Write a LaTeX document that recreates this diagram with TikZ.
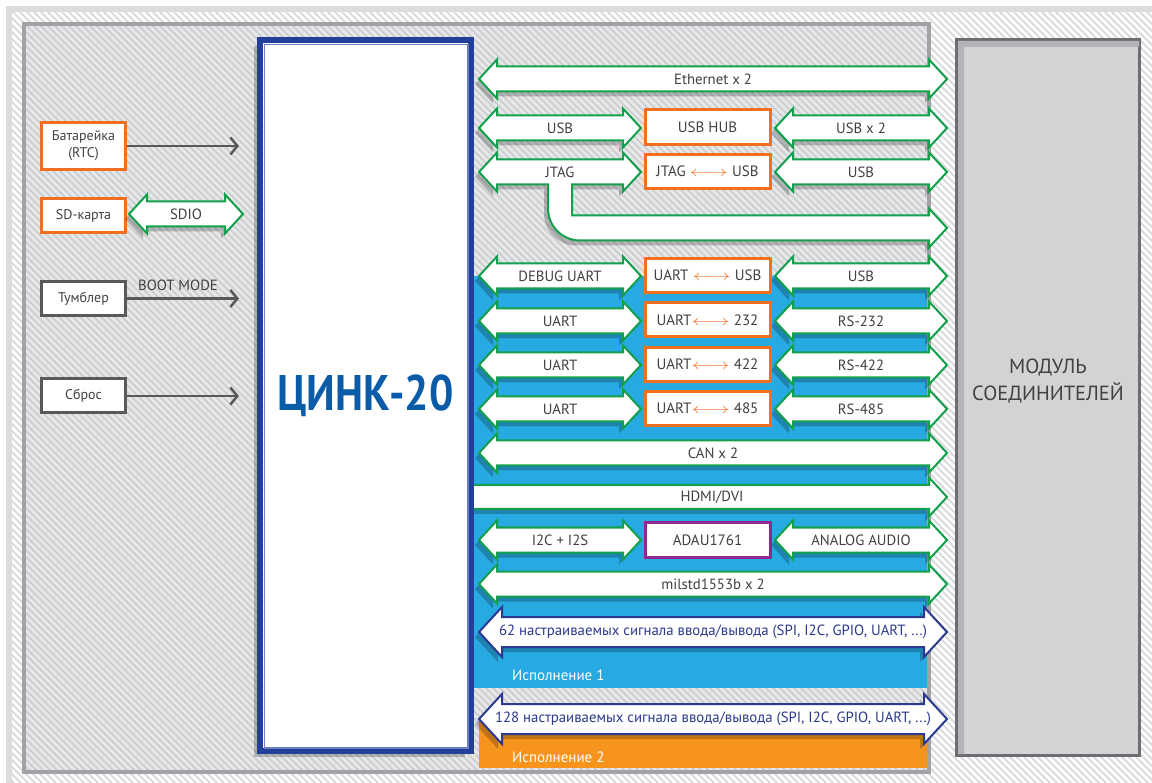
\documentclass[tikz,border=0pt]{standalone}
\usepackage{fontspec}
\setmainfont{PT Sans}
\usepackage{tikz}
\usetikzlibrary{arrows.meta,calc}

\definecolor{framegray}{HTML}{DCDCDC}
\definecolor{hatchlight}{HTML}{DADBDC}
\definecolor{panelfill}{HTML}{E6E7E8}
\definecolor{hatchdark}{HTML}{CBCCCE}
\definecolor{panelgray}{HTML}{A0A2A5}
\definecolor{variantblue}{HTML}{27A9E1}
\definecolor{variantorange}{HTML}{F7941D}
\definecolor{modfill}{HTML}{D1D3D4}
\definecolor{modborder}{HTML}{6D6E71}
\definecolor{modband}{HTML}{B2B4B7}
\definecolor{cpublue}{HTML}{22409A}
\definecolor{cpuinner}{HTML}{6B80C0}
\definecolor{cputext}{HTML}{0A5BA8}
\definecolor{linegreen}{HTML}{12A04B}
\definecolor{boxorange}{HTML}{F26F22}
\definecolor{boxgray}{HTML}{58595B}
\definecolor{audiopurple}{HTML}{92278F}
\definecolor{iblue}{HTML}{2B3990}
\definecolor{txtgray}{HTML}{414042}

\tikzset{
  outerhatch/.style={draw=hatchlight, line width=2pt},
  innerhatch/.style={draw=hatchdark, line width=1.7pt},
  shadow/.style={fill=black, fill opacity=0.22},
  arrowshadow/.style={shadow, shift={(-4,5)}},
  arrowbody/.style={fill=white, line width=2pt, line join=miter},
  arrowlabel/.style={inner sep=0pt, text=txtgray, font=\fontsize{14.8}{16}\selectfont},
  srcbox/.style={draw=boxorange, line width=3pt, fill=white, text=txtgray,
    minimum width=84pt, minimum height=34pt, inner sep=0pt, align=center,
    font=\fontsize{14}{17}\selectfont},
  ctrlbox/.style={srcbox, draw=boxgray},
  convbox/.style={srcbox, minimum width=125pt, font=\fontsize{15}{17}\selectfont},
  ctrlarrow/.style={draw=boxgray, line width=2.5pt, shorten >=18pt,
    -{Straight Barb[length=7pt,width=17pt]}},
  cpu/.style={draw=cpublue, line width=6pt, fill=white, minimum width=211pt,
    minimum height=711pt, text=cputext, font=\fontsize{50}{55}\selectfont\bfseries},
  module/.style={draw=modborder, line width=3pt, fill=modfill,
    minimum width=183pt, minimum height=716pt},
  varlabel/.style={anchor=west, inner sep=0pt, text=white,
    font=\fontsize{15}{17}\selectfont},
}

% head length, head half height, shaft half height
\def\hl{18}\def\hh{19.5}\def\hs{12.5}
\newcommand\arrowshape[4]{% style, x1, x2, y
  \path[#1] (#2,#4) -- ++(\hl,-\hh) -- ++(0,\hh-\hs) -- ({#3-\hl},{#4-\hs})
    -- ++(0,\hs-\hh) -- (#3,#4) -- ++(-\hl,\hh) -- ++(0,\hs-\hh)
    -- ({#2+\hl},{#4+\hs}) -- ++(0,\hh-\hs) -- cycle;}
\newcommand\dblarrow[6][linegreen]{% [colour] name, x1, x2, y, label
  \arrowshape{arrowshadow}{#3}{#4}{#5}
  \arrowshape{arrowbody,draw=#1}{#3}{#4}{#5}
  \node[arrowlabel] (#2) at ({(#3+#4)/2},#5) {#6};}
\newcommand\conv{\textcolor{boxorange}{\scalebox{1.45}[1]{$\longleftrightarrow$}}}

\begin{document}
\begin{tikzpicture}[x=1pt,y=-1pt]
\useasboundingbox (0,0) rectangle (1152,783);

% frame
\fill[white] (0,0) rectangle (1152,783);
\fill[framegray] (6,6) rectangle (1152,783);
\fill[white] (12,12) rectangle (1152,783);
\begin{scope}
  \clip (12,12) rectangle (1152,783);
  \foreach \k in {-790,-783,...,1152} \draw[outerhatch] (\k,0) -- ++(800,800);
\end{scope}

% panel
\fill[panelfill] (24,24) rectangle (929,772);
\begin{scope}
  \clip (24,24) rectangle (929,772);
  \foreach \k in {-770,-763,...,929} \draw[innerhatch] (\k,20) -- ++(760,760);
\end{scope}
\fill[variantblue] (470,276) rectangle (927,688);
\fill[variantorange] (479,721) rectangle (927,768);
\draw[panelgray, line width=3.5pt] (24,24) rectangle (929,772);
\node[varlabel] (var1) at (512,675) {Исполнение 1};
\node[varlabel] (var2) at (512,757) {Исполнение 2};

% connector module
\node[module] (mod) at (1048,397.5) {};
\fill[modband] (958,41) -- (1139,41) -- (1139,47) -- (964,47) -- (964,754) -- (958,754) -- cycle;
\node[align=center, text=txtgray, font=\fontsize{20.5}{27}\selectfont] (modtext) at (1048,381)
  {МОДУЛЬ\\СОЕДИНИТЕЛЕЙ};

% left side
\node[srcbox, minimum height=47pt] (bat) at (83.5,146) {Батарейка\\(RTC)};
\node[srcbox] (sd) at (83.5,215.5) {SD-карта};
\node[ctrlbox] (sw) at (83.5,298.5) {Тумблер};
\node[ctrlbox] (rst) at (83.5,396) {Сброс};
\dblarrow{sdio}{129}{243}{214}{SDIO}
\node[arrowlabel] (boot) at (178,285) {BOOT MODE};

% buses
\dblarrow{eth}{479}{947}{79}{Ethernet x 2}
\dblarrow{usbL}{479}{641}{128}{USB}
\dblarrow{usbR}{775}{947}{128}{USB x 2}
\node[convbox, minimum height=35pt] (hub) at (707.5,127) {USB HUB};

% jtag with branch
\path[arrowshadow] (479,172) -- (497,152.5) -- (497,159.5) -- (623,159.5) -- (623,152.5)
  -- (641,172) -- (623,191.5) -- (623,184.5) -- (572,184.5) -- (572,215.5) -- (929,215.5)
  -- (929,208.5) -- (947,228) -- (929,247.5) -- (929,240.5) -- (580,240.5)
  .. controls (562.3,240.5) and (548,226.2) .. (548,208.5) -- (548,184.5) -- (497,184.5)
  -- (497,191.5) -- cycle;
\path[arrowbody, draw=linegreen] (479,172) -- (497,152.5) -- (497,159.5) -- (623,159.5) -- (623,152.5)
  -- (641,172) -- (623,191.5) -- (623,184.5) -- (572,184.5) -- (572,215.5) -- (929,215.5)
  -- (929,208.5) -- (947,228) -- (929,247.5) -- (929,240.5) -- (580,240.5)
  .. controls (562.3,240.5) and (548,226.2) .. (548,208.5) -- (548,184.5) -- (497,184.5)
  -- (497,191.5) -- cycle;
\node[arrowlabel] (jtagL) at (560,172) {JTAG};
\dblarrow{jusbR}{775}{947}{172}{USB}
\node[convbox] (jtag) at (707.5,171.5) {JTAG~\conv~USB};

% uarts
\dblarrow{dbgL}{479}{641}{276}{DEBUG UART}
\dblarrow{dbgR}{775}{947}{276}{USB}
\node[convbox] (dbg) at (707.5,275.5) {UART~\conv~USB};
\dblarrow{uartA}{479}{641}{321}{UART}
\dblarrow{rsA}{775}{947}{321}{RS-232}
\node[convbox] (convA) at (707.5,320) {UART\conv~232};
\dblarrow{uartB}{479}{641}{365}{UART}
\dblarrow{rsB}{775}{947}{365}{RS-422}
\node[convbox] (convB) at (707.5,364.5) {UART\conv~422};
\dblarrow{uartC}{479}{641}{409}{UART}
\dblarrow{rsC}{775}{947}{409}{RS-485}
\node[convbox] (convC) at (707.5,408.5) {UART\conv~485};
\dblarrow{can}{479}{947}{453}{CAN x 2}

% hdmi, one head only
\path[arrowshadow] (474,485) -- (929,485) -- (929,477.5) -- (947,497) -- (929,516.5) -- (929,509) -- (474,509) -- cycle;
\fill[white] (474,485) -- (929,485) -- (929,477.5) -- (947,497) -- (929,516.5) -- (929,509) -- (474,509) -- cycle;
\draw[arrowbody, draw=linegreen] (474,485) -- (929,485) -- (929,477.5) -- (947,497) -- (929,516.5) -- (929,509) -- (474,509);
\node[arrowlabel] (hdmi) at (712,497) {HDMI/DVI};

% audio
\dblarrow{i2s}{479}{641}{540}{I2C + I2S}
\dblarrow{audio}{775}{947}{540}{ANALOG AUDIO}
\node[convbox, draw=audiopurple] (adau) at (707.5,540) {ADAU1761};
\dblarrow{mil}{479}{947}{584}{milstd1553b x 2}

% configurable io
\def\hl{23}\def\hh{25}\def\hs{15}
\dblarrow[iblue]{ioA}{479}{947}{632}{\textcolor{iblue}{62 настраиваемых сигнала ввода/вывода (SPI, I2C, GPIO, UART, ...)}}
\dblarrow[iblue]{ioB}{479}{947}{719}{\textcolor{iblue}{128 настраиваемых сигнала ввода/вывода (SPI, I2C, GPIO, UART, ...)}}

% processor
\fill[shadow] (254,46) rectangle (465,757);
\node[cpu] (cpu) at (365.5,395.5) {\scalebox{0.86}[1]{ЦИНК-20}};
\draw[cpuinner, line width=1.3pt] ($(cpu.north west)+(7.5,7.5)$) rectangle ($(cpu.south east)+(-6,-6)$);

% control lines
\draw[ctrlarrow] (bat.east) -- (bat.east -| cpu.west);
\draw[ctrlarrow] (sw.east) -- (sw.east -| cpu.west);
\draw[ctrlarrow] (rst.east) -- (rst.east -| cpu.west);
\end{tikzpicture}
\end{document}
